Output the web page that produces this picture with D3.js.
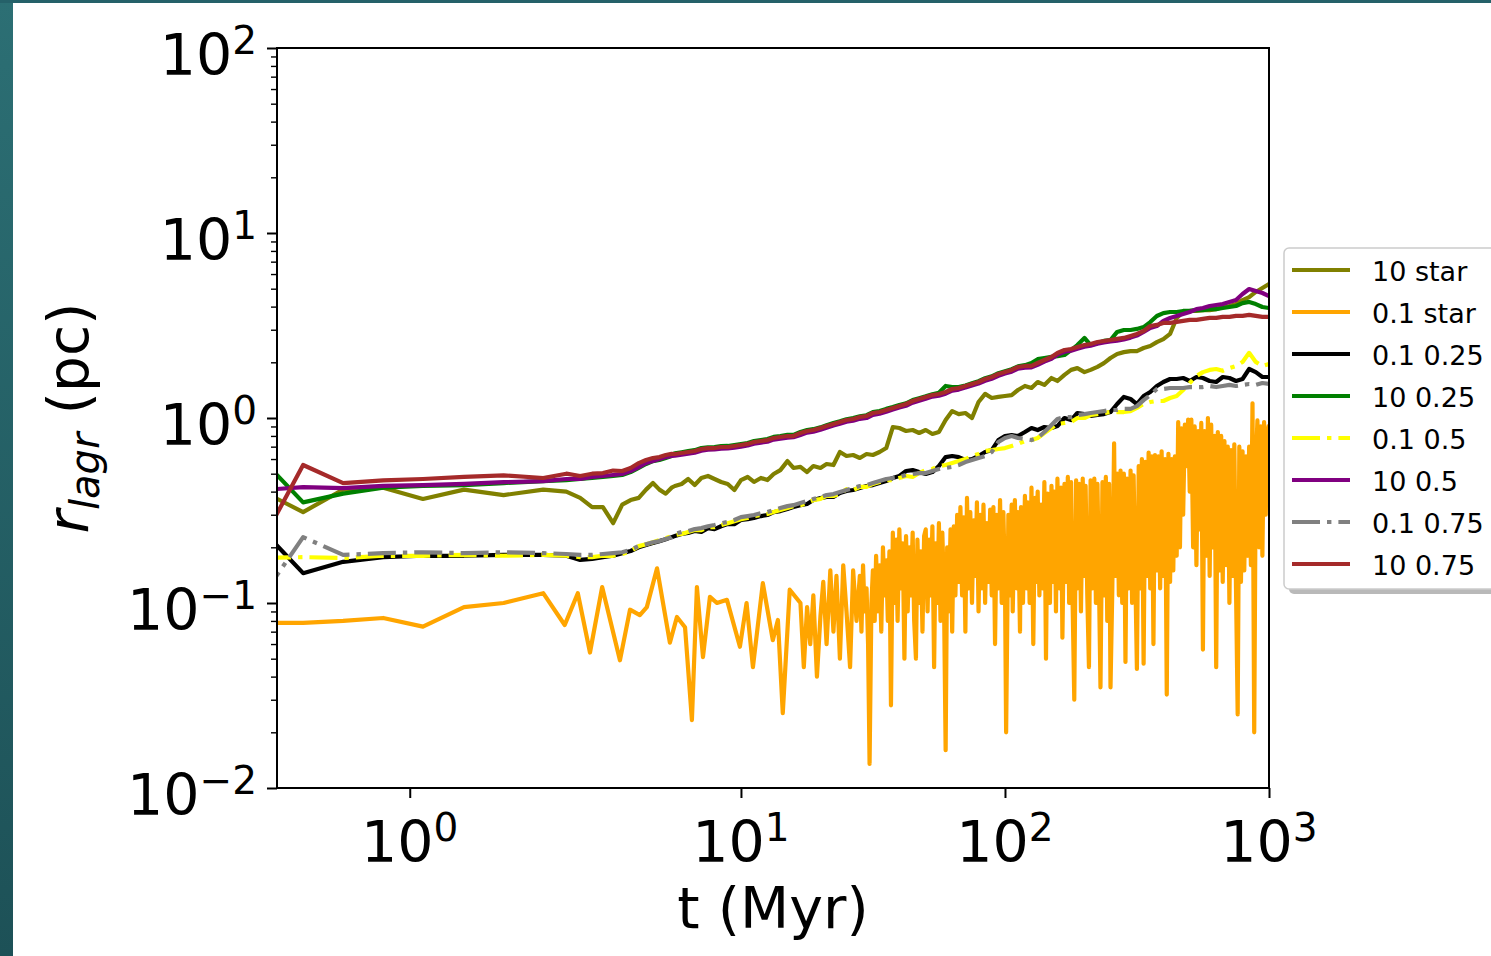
<!DOCTYPE html>
<html><head><meta charset="utf-8">
<script src="https://cdn.jsdelivr.net/npm/d3@7"></script>
<style>
html,body{margin:0;padding:0;background:#fff;}
svg{display:block;}
text{font-family:"DejaVu Sans",sans-serif;fill:#000;}
</style></head><body>
<svg id="chart" width="1491" height="956"></svg>
<script>
// ---------------- DATA ----------------
const seriesNames = ["10 star", "0.1 star", "0.1 0.25", "10 0.25", "0.1 0.5", "10 0.5", "0.1 0.75", "10 0.75"];

// shared time axis (Myr) for all series except "0.1 star"
const timeMyr = [0, 0.273, 0.546, 0.819, 1.09, 1.37, 1.64, 1.91, 2.18, 2.46, 2.73, 3.0, 3.28, 3.55, 3.82, 4.1, 4.37, 4.64, 4.91, 5.19, 5.46,
  5.62, 5.96, 6.31, 6.68, 7.08, 7.5, 7.94, 8.41, 8.91, 9.44,
  10, 10.6, 11.2, 11.9, 12.6, 13.3, 14.1, 15.0, 15.8, 16.8, 17.8, 18.8, 20.0, 21.1, 22.4, 23.7, 25.1, 26.6, 28.2, 29.9,
  31.6, 33.5, 35.5, 37.6, 39.8, 42.2, 44.7, 47.3, 50.1, 53.1, 56.2, 59.6, 63.1, 66.8, 70.8, 75.0, 79.4, 84.1, 89.1, 94.4,
  100, 106, 112, 119, 126, 133, 141, 150, 158, 168, 178, 188, 200, 211, 224, 237, 251, 266, 282, 299,
  316, 335, 355, 376, 398, 422, 447, 473, 501, 531, 562, 596, 631, 668, 708, 750, 794, 841, 891, 944, 1000];

const star10 = [0.40, 0.31, 0.41, 0.42, 0.365, 0.41, 0.383, 0.41, 0.40, 0.37, 0.33, 0.33, 0.27, 0.34, 0.36, 0.37, 0.41, 0.445, 0.41, 0.39, 0.42,
  0.429, 0.440, 0.468, 0.434, 0.474, 0.486, 0.468, 0.451, 0.440, 0.408,
  0.462, 0.480, 0.451, 0.474, 0.462, 0.498, 0.523, 0.585, 0.537, 0.544,
  0.510, 0.550, 0.537, 0.564, 0.557, 0.655, 0.623, 0.631, 0.608, 0.639,
  0.631, 0.655, 0.688, 0.894, 0.883, 0.851, 0.861, 0.830, 0.861, 0.820,
  0.840, 0.975, 1.09, 1.05, 1.064, 1.0, 1.22, 1.35, 1.283, 1.30,
  1.315, 1.33, 1.417, 1.49, 1.453, 1.565, 1.51, 1.645, 1.585, 1.71,
  1.82, 1.86, 1.77, 1.82, 1.89, 1.98, 2.11, 2.22, 2.27, 2.30,
  2.30, 2.39, 2.45, 2.57, 2.67, 2.85, 3.47, 3.74, 3.79, 3.79,
  3.83, 3.83, 3.88, 3.98, 4.03, 4.13, 4.34, 4.50, 4.80, 5.04, 5.30];

const lagr01_025 = [0.245, 0.145, 0.167, 0.177, 0.18, 0.18, 0.182, 0.182, 0.18, 0.171, 0.173, 0.177, 0.18, 0.186, 0.191, 0.20, 0.206, 0.211, 0.216, 0.221, 0.227,
  0.230, 0.236, 0.239, 0.245, 0.242, 0.254, 0.251, 0.260, 0.267, 0.267,
  0.281, 0.284, 0.288, 0.295, 0.299, 0.310, 0.314, 0.322, 0.330, 0.338,
  0.343, 0.360, 0.369, 0.374, 0.374, 0.393, 0.403, 0.408, 0.418, 0.429,
  0.434, 0.445, 0.456, 0.474, 0.486, 0.517, 0.523, 0.510, 0.498, 0.510,
  0.550, 0.615, 0.623, 0.615, 0.593, 0.600, 0.623, 0.655, 0.671, 0.760,
  0.799, 0.809, 0.799, 0.840, 0.883, 0.861, 0.894, 0.883, 0.905, 1.0,
  0.975, 1.064, 1.05, 1.025, 1.038, 1.05, 1.077, 1.19, 1.30, 1.267,
  1.19, 1.315, 1.382, 1.49, 1.565, 1.625, 1.625, 1.645, 1.585, 1.666,
  1.645, 1.585, 1.565, 1.666, 1.645, 1.585, 1.625, 1.84, 1.77, 1.666, 1.666];

const lagr10_025 = [0.59, 0.35, 0.39, 0.42, 0.43, 0.434, 0.445, 0.456, 0.462, 0.468, 0.474, 0.48, 0.486, 0.492, 0.51, 0.537, 0.564, 0.585, 0.593, 0.608, 0.623,
  0.645, 0.653, 0.662, 0.670, 0.688, 0.695, 0.697, 0.705, 0.706, 0.714,
  0.723, 0.733, 0.750, 0.760, 0.770, 0.790, 0.798, 0.810, 0.810, 0.840,
  0.860, 0.870, 0.890, 0.915, 0.940, 0.960, 0.985, 1.0, 1.02, 1.035,
  1.075, 1.09, 1.12, 1.145, 1.175, 1.20, 1.25, 1.28, 1.31, 1.345,
  1.37, 1.49, 1.47, 1.47, 1.50, 1.54, 1.58, 1.64, 1.68, 1.745,
  1.79, 1.835, 1.90, 1.93, 1.98, 2.08, 2.11, 2.14, 2.16, 2.19,
  2.33, 2.48, 2.71, 2.48, 2.54, 2.61, 2.64, 2.92, 2.99, 2.99,
  3.03, 3.10, 3.30, 3.56, 3.69, 3.74, 3.74, 3.79, 3.79, 3.83,
  3.83, 3.88, 3.88, 3.93, 3.98, 4.03, 4.18, 4.24, 4.13, 3.98, 3.93];

const lagr01_05 = [0.175, 0.177, 0.175, 0.18, 0.18, 0.182, 0.18, 0.182, 0.18, 0.177, 0.177, 0.18, 0.18, 0.184, 0.191, 0.203, 0.208, 0.213, 0.219, 0.224, 0.23,
  0.233, 0.236, 0.242, 0.248, 0.248, 0.257, 0.257, 0.264, 0.270, 0.277,
  0.284, 0.288, 0.295, 0.299, 0.303, 0.310, 0.318, 0.326, 0.334, 0.338,
  0.347, 0.360, 0.365, 0.379, 0.379, 0.388, 0.413, 0.408, 0.424, 0.424,
  0.440, 0.451, 0.462, 0.462, 0.474, 0.486, 0.480, 0.504, 0.523, 0.530,
  0.550, 0.557, 0.571, 0.585, 0.600, 0.623, 0.639, 0.663, 0.671, 0.680,
  0.688, 0.706, 0.724, 0.751, 0.760, 0.780, 0.830, 0.883, 0.928, 0.940,
  0.951, 1.0, 1.0, 1.038, 1.05, 1.064, 1.077, 1.077, 1.077, 1.09,
  1.133, 1.19, 1.22, 1.236, 1.236, 1.283, 1.315, 1.417, 1.546, 1.686,
  1.77, 1.82, 1.84, 1.80, 1.86, 1.91, 2.01, 2.25, 2.01, 1.91, 1.96];

const lagr10_05 = [0.408, 0.423, 0.418, 0.43, 0.434, 0.44, 0.45, 0.456, 0.468, 0.468, 0.48, 0.486, 0.492, 0.498, 0.517, 0.543, 0.571, 0.585, 0.60, 0.615, 0.623,
  0.626, 0.634, 0.642, 0.650, 0.666, 0.674, 0.676, 0.683, 0.685, 0.692,
  0.700, 0.71, 0.727, 0.736, 0.745, 0.764, 0.773, 0.783, 0.787, 0.81,
  0.834, 0.844, 0.865, 0.887, 0.91, 0.93, 0.955, 0.968, 0.99, 1.0,
  1.04, 1.055, 1.08, 1.11, 1.14, 1.165, 1.21, 1.24, 1.27, 1.305,
  1.32, 1.354, 1.406, 1.424, 1.46, 1.50, 1.535, 1.59, 1.63, 1.69,
  1.74, 1.78, 1.85, 1.87, 1.88, 1.94, 2.02, 2.09, 2.20, 2.28,
  2.31, 2.37, 2.43, 2.46, 2.52, 2.56, 2.59, 2.62, 2.66, 2.72,
  2.79, 2.92, 3.07, 3.14, 3.35, 3.47, 3.56, 3.65, 3.74, 3.88,
  3.93, 4.03, 4.08, 4.13, 4.24, 4.34, 4.68, 4.98, 4.86, 4.74, 4.56];

const lagr01_075 = [0.11, 0.227, 0.182, 0.186, 0.188, 0.186, 0.188, 0.186, 0.184, 0.182, 0.182, 0.184, 0.186, 0.188, 0.194, 0.203, 0.208, 0.213, 0.216, 0.222, 0.227,
  0.236, 0.242, 0.245, 0.251, 0.254, 0.260, 0.264, 0.270, 0.274, 0.281,
  0.291, 0.295, 0.299, 0.306, 0.310, 0.318, 0.326, 0.334, 0.338, 0.347,
  0.356, 0.365, 0.374, 0.383, 0.388, 0.398, 0.408, 0.418, 0.429, 0.434,
  0.445, 0.456, 0.468, 0.474, 0.480, 0.492, 0.498, 0.504, 0.504, 0.517,
  0.530, 0.537, 0.544, 0.557, 0.578, 0.593, 0.608, 0.623, 0.655, 0.742,
  0.780, 0.799, 0.780, 0.770, 0.760, 0.780, 0.840, 0.917, 0.988, 1.012,
  1.012, 1.038, 1.05, 1.064, 1.077, 1.09, 1.105, 1.105, 1.12, 1.12,
  1.16, 1.25, 1.33, 1.435, 1.435, 1.453, 1.453, 1.453, 1.47, 1.47,
  1.47, 1.49, 1.47, 1.49, 1.51, 1.49, 1.51, 1.527, 1.51, 1.546, 1.527];

const lagr10_075 = [0.22, 0.557, 0.445, 0.46, 0.468, 0.48, 0.49, 0.474, 0.50, 0.486, 0.50, 0.504, 0.52, 0.517, 0.537, 0.57, 0.593, 0.608, 0.615, 0.631, 0.64,
  0.639, 0.647, 0.655, 0.663, 0.680, 0.688, 0.688, 0.697, 0.697, 0.706,
  0.715, 0.724, 0.742, 0.751, 0.760, 0.780, 0.789, 0.799, 0.799, 0.830,
  0.851, 0.861, 0.883, 0.905, 0.928, 0.951, 0.975, 0.988, 1.012, 1.025,
  1.064, 1.077, 1.105, 1.132, 1.161, 1.190, 1.236, 1.267, 1.299, 1.332,
  1.348, 1.382, 1.435, 1.453, 1.489, 1.527, 1.565, 1.625, 1.666, 1.729,
  1.773, 1.818, 1.887, 1.911, 1.911, 1.983, 2.058, 2.136, 2.246, 2.330,
  2.359, 2.419, 2.480, 2.511, 2.575, 2.608, 2.641, 2.675, 2.710, 2.778,
  2.849, 2.954, 3.144, 3.184, 3.266, 3.266, 3.306, 3.349, 3.389, 3.389,
  3.432, 3.475, 3.475, 3.520, 3.520, 3.563, 3.563, 3.610, 3.563, 3.520, 3.520];

// "0.1 star" has its own (denser) time axis
const timeOrange = [0, 0.273, 0.546, 0.819, 1.09, 1.37, 1.64, 1.91, 2.15, 2.41, 2.68, 2.98, 3.48, 3.80, 4.14, 4.40, 4.81,
  5.38, 5.72, 6.14, 6.52, 6.81, 7.18, 7.63, 8.11, 8.85, 9.91, 10.5, 11.1, 12.1, 13.2, 13.8, 14.4, 15.3,
  16.8, 17.3, 17.8, 18.3, 18.8, 19.4, 20.0, 20.5, 21.1, 21.8, 22.4, 23.0, 23.7, 24.4, 25.1, 25.9, 26.6, 27.4,
  28.2, 28.6, 29.0, 29.4, 29.9, 30.3, 30.7, 31.2, 31.6, 32.1, 32.5, 33.0, 33.5, 34.0, 34.5, 35.0, 35.5, 36.0, 36.5, 37.0,
  37.6, 38.1, 38.7, 39.2, 39.8, 40.4, 41.0, 41.6, 42.2, 42.8, 43.4, 44.0, 44.7, 45.3, 46.0, 46.6, 47.3, 48.0, 48.7, 49.4,
  50.1, 50.9, 51.6, 52.3, 53.1, 53.9, 54.6, 55.4, 56.2, 57.0, 57.9, 58.7, 59.6, 60.4, 61.3, 62.2, 63.1, 64.0, 64.9, 65.9,
  66.8, 67.8, 68.8, 69.8, 70.8, 71.8, 72.9, 73.9, 75.0, 76.1, 77.2, 78.3, 79.4, 80.6, 81.8, 82.9, 84.1, 85.4, 86.6, 87.9,
  89.1, 90.4, 91.7, 93.1, 94.4, 95.8, 97.2, 98.6,
  100, 101, 103, 104, 106, 107, 109, 111, 112, 114, 115, 117, 119, 121, 122, 124, 126, 128, 130, 131,
  133, 135, 137, 139, 141, 143, 145, 148, 150, 152, 154, 156, 158, 161, 163, 165, 168, 170, 173, 175,
  178, 180, 183, 186, 188, 191, 194, 197, 200, 202, 205, 208, 211, 214, 218, 221, 224, 227, 230, 234,
  237, 241, 244, 248, 251, 255, 259, 262, 266, 270, 274, 278, 282, 286, 290, 294, 299, 303, 307, 312,
  316, 321, 325, 330, 335, 340, 345, 350, 355, 360, 365, 370, 376, 381, 387, 392, 398, 404, 410, 416,
  422, 428, 434, 440, 447, 453, 460, 466, 473, 480, 487, 494, 501, 508, 516, 523, 531, 539, 546, 554,
  562, 570, 579, 587, 596, 604, 613, 622, 631, 640, 649, 659, 668, 678, 688, 698, 708, 718, 729, 739,
  750, 761, 772, 783, 794, 806, 818, 829, 841, 854, 866, 879, 891, 904, 917, 931, 944, 958, 972, 986, 1000];

const star01 = [0.078, 0.078, 0.080, 0.083, 0.0745, 0.095, 0.10, 0.113, 0.076, 0.113, 0.054, 0.122, 0.049, 0.092, 0.086, 0.095, 0.154,
  0.061, 0.084, 0.074, 0.0233, 0.122, 0.051, 0.108, 0.10, 0.104, 0.058, 0.10, 0.045, 0.128, 0.063, 0.081, 0.0254, 0.118,
  0.10, 0.045, 0.095, 0.06, 0.11, 0.04, 0.085, 0.13, 0.06, 0.15, 0.07, 0.14, 0.05, 0.16, 0.09, 0.045, 0.15, 0.08,
  0.14, 0.07, 0.16, 0.09, 0.12, 0.06, 0.0135, 0.10, 0.15, 0.08,
  0.18, 0.09, 0.16, 0.07, 0.20, 0.11, 0.17, 0.08, 0.19, 0.028,
  0.24, 0.10, 0.22, 0.08, 0.25, 0.12, 0.21, 0.05, 0.23, 0.09,
  0.20, 0.11, 0.24, 0.08, 0.05, 0.22, 0.10, 0.19, 0.07, 0.23,
  0.25, 0.09, 0.22, 0.11, 0.26, 0.045, 0.21, 0.10, 0.27, 0.08,
  0.24, 0.12, 0.016, 0.20, 0.09, 0.25, 0.07, 0.26, 0.11, 0.30,
  0.13, 0.33, 0.11, 0.29, 0.07, 0.37, 0.12, 0.31, 0.10, 0.28,
  0.14, 0.35, 0.09, 0.30, 0.12, 0.34, 0.10, 0.27, 0.13, 0.32,
  0.11, 0.33, 0.06, 0.30, 0.12, 0.36, 0.10, 0.31, 0.13, 0.02,
  0.30, 0.11, 0.34, 0.09, 0.36, 0.12, 0.31, 0.07, 0.33, 0.10,
  0.38, 0.12, 0.35, 0.10, 0.42, 0.06, 0.37, 0.13, 0.40, 0.11,
  0.34, 0.12, 0.45, 0.05, 0.39, 0.10, 0.43, 0.13, 0.40, 0.09,
  0.47, 0.12, 0.42, 0.065, 0.44, 0.13, 0.48, 0.10, 0.45, 0.12,
  0.03, 0.46, 0.12, 0.44, 0.09, 0.47, 0.14, 0.43, 0.11, 0.045,
  0.46, 0.12, 0.47, 0.10, 0.44, 0.13, 0.035, 0.45, 0.11, 0.48,
  0.08, 0.44, 0.035, 0.12, 0.73, 0.14, 0.50, 0.11, 0.52, 0.10,
  0.50, 0.048, 0.47, 0.12, 0.52, 0.10, 0.49, 0.13, 0.044, 0.55,
  0.12, 0.60, 0.047, 0.58, 0.14, 0.65, 0.12, 0.62, 0.06, 0.63,
  0.15, 0.62, 0.12, 0.66, 0.14, 0.60, 0.032, 0.64, 0.13, 0.60,
  0.15, 0.62, 0.18, 0.95, 0.20, 0.88, 0.30, 0.92, 0.55, 0.98,
  0.40, 0.98, 0.20, 0.90, 0.16, 0.85, 0.25, 0.94, 0.056, 0.85,
  0.18, 1.0, 0.14, 0.92, 0.20, 0.80, 0.045, 0.84, 0.15, 0.80,
  0.13, 0.75, 0.16, 0.70, 0.10, 0.67, 0.14, 0.72, 0.12, 0.025,
  0.70, 0.13, 0.66, 0.15, 0.62, 0.18, 0.70, 0.16, 1.2, 0.02,
  0.55, 0.97, 0.20, 0.90, 0.18, 0.95, 0.30, 0.85, 0.92];

const xTickValues = [1, 10, 100, 1000];
const xTickExp = ["0", "1", "2", "3"];
const yTickValues = [0.01, 0.1, 1, 10, 100];
const yTickExp = ["\u22122", "\u22121", "0", "1", "2"];

// ---------------- STYLE ----------------
const seriesColors = ["#808000", "#ffa500", "#000000", "#008000", "#ffff00", "#800080", "#808080", "#a52a2a"];
const seriesDashed = [false, false, false, false, true, false, true, false];
const seriesTimes = [timeMyr, timeOrange, timeMyr, timeMyr, timeMyr, timeMyr, timeMyr, timeMyr];
const seriesValues = [star10, star01, lagr01_025, lagr10_025, lagr01_05, lagr10_05, lagr01_075, lagr10_075];

const W = 1491, H = 956;
const PL = 277, PR = 1269, PT = 48, PB = 788;
const FONT = 57, SUP = 39;
const DASHDOT = "28,7,4.4,7";
const LW = 4.2;

const svg = d3.select("#chart");
const defs = svg.append("defs");
const grad = defs.append("linearGradient").attr("id", "teal").attr("x1", 0).attr("y1", 0).attr("x2", 0).attr("y2", 1);
grad.append("stop").attr("offset", "0%").attr("stop-color", "#2c6f74");
grad.append("stop").attr("offset", "100%").attr("stop-color", "#1d5157");
defs.append("clipPath").attr("id", "plotclip").append("rect")
  .attr("x", PL).attr("y", PT).attr("width", PR - PL).attr("height", PB - PT);

svg.append("rect").attr("x", 0).attr("y", 0).attr("width", W).attr("height", H).attr("fill", "#fff");
svg.append("rect").attr("x", 0).attr("y", 0).attr("width", 13).attr("height", H).attr("fill", "url(#teal)");
svg.append("rect").attr("x", 0).attr("y", 0).attr("width", W).attr("height", 3).attr("fill", "#256169");

// matplotlib-style symlog transform (linthresh 2, linscale 1)
const LT = 2, LA = 1 / (1 - 0.1);
const symlog = t => t <= LT ? t * LA : LT * (LA + Math.log10(t / LT));
const x = d3.scaleLinear().domain([symlog(0.095), symlog(1000)]).range([PL, PR]);
const y = d3.scaleLog().domain([0.01, 100]).range([PB, PT]);

// ---------------- LINES ----------------
const line = d3.line().x(d => x(symlog(d.t))).y(d => y(d.v)).curve(d3.curveLinear);
const gLines = svg.append("g").attr("clip-path", "url(#plotclip)");
seriesNames.forEach((name, i) => {
  const ts = seriesTimes[i], vs = seriesValues[i];
  const n = Math.min(ts.length, vs.length);
  const data = [];
  for (let k = 0; k < n; k++) data.push({t: ts[k], v: vs[k]});
  gLines.append("path").datum(data)
    .attr("fill", "none")
    .attr("stroke", seriesColors[i])
    .attr("stroke-width", LW)
    .attr("stroke-linejoin", "round")
    .attr("stroke-dasharray", seriesDashed[i] ? DASHDOT : null)
    .attr("d", line);
});

// ---------------- AXES ----------------
const minorY = [];
[0.01, 0.1, 1, 10].forEach(d => { for (let m = 2; m <= 9; m++) minorY.push(d * m); });

const gyMinor = svg.append("g").attr("transform", `translate(${PL},0)`)
  .call(d3.axisLeft(y).tickValues(minorY).tickSize(6).tickFormat(""));
gyMinor.select(".domain").remove();
gyMinor.selectAll("line").attr("stroke", "#000").attr("stroke-width", 1.4);

const gy = svg.append("g").attr("transform", `translate(${PL},0)`)
  .call(d3.axisLeft(y).tickValues(yTickValues).tickSize(10).tickFormat(""));
gy.select(".domain").remove();
gy.selectAll("line").attr("stroke", "#000").attr("stroke-width", 2);

const gx = svg.append("g").attr("transform", `translate(0,${PB})`)
  .call(d3.axisBottom(x).tickValues(xTickValues.map(symlog)).tickSize(10).tickFormat(""));
gx.select(".domain").remove();
gx.selectAll("line").attr("stroke", "#000").attr("stroke-width", 2);

// frame (spines)
svg.append("rect").attr("x", PL).attr("y", PT).attr("width", PR - PL).attr("height", PB - PT)
  .attr("fill", "none").attr("stroke", "#000").attr("stroke-width", 2);

// tick labels
yTickValues.forEach((v, i) => {
  const t = svg.append("text").attr("x", 257).attr("y", y(v) + 27)
    .attr("text-anchor", "end").attr("font-size", FONT);
  t.append("tspan").text("10");
  t.append("tspan").attr("font-size", SUP).attr("dy", -21).text(yTickExp[i]);
});
xTickValues.forEach((v, i) => {
  const t = svg.append("text").attr("x", x(symlog(v))).attr("y", 862)
    .attr("text-anchor", "middle").attr("font-size", FONT);
  t.append("tspan").text("10");
  t.append("tspan").attr("font-size", SUP).attr("dy", -21).text(xTickExp[i]);
});

// axis titles
svg.append("text").attr("x", (PL + PR) / 2).attr("y", 928).attr("text-anchor", "middle")
  .attr("font-size", FONT).text("t (Myr)");
const yl = svg.append("text").attr("transform", `translate(88,${(PT + PB) / 2}) rotate(-90)`)
  .attr("text-anchor", "middle").attr("font-size", FONT);
yl.append("tspan").attr("font-style", "italic").text("r");
yl.append("tspan").attr("font-style", "italic").attr("font-size", 40).attr("dy", 11).text("lagr");
yl.append("tspan").attr("dy", -11).text(" (pc)");

// ---------------- LEGEND ----------------
const LGX = 1284, LGY = 248, LGW = 240, LGH = 341;
svg.append("rect").attr("x", LGX + 5).attr("y", LGY + 5).attr("width", LGW).attr("height", LGH)
  .attr("rx", 5).attr("fill", "#808080").attr("opacity", 0.55);
svg.append("rect").attr("x", LGX).attr("y", LGY).attr("width", LGW).attr("height", LGH)
  .attr("rx", 5).attr("fill", "#fff").attr("stroke", "#cccccc").attr("stroke-width", 1.5);
seriesNames.forEach((name, i) => {
  const yy = 270 + i * 42;
  svg.append("line").attr("x1", 1292).attr("x2", 1350).attr("y1", yy).attr("y2", yy)
    .attr("stroke", seriesColors[i]).attr("stroke-width", 4)
    .attr("stroke-dasharray", seriesDashed[i] ? DASHDOT : null);
  svg.append("text").attr("x", 1372).attr("y", yy + 11).attr("font-size", 27).text(name);
});
</script>
</body></html>
